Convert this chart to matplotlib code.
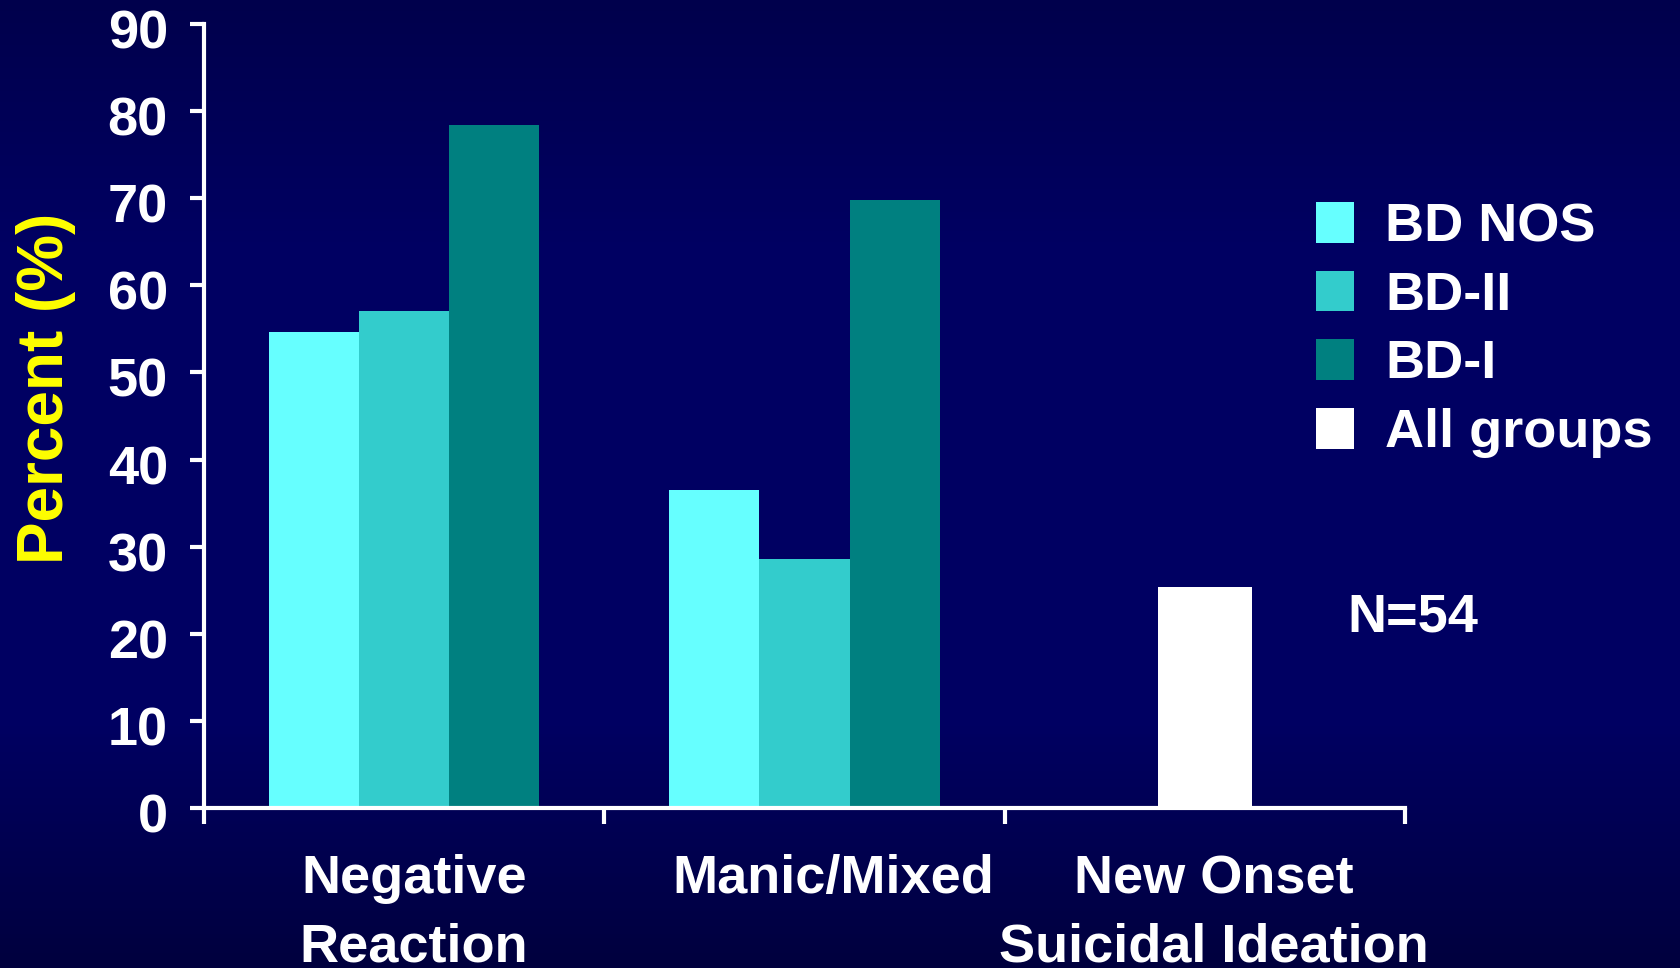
import numpy as np
import matplotlib
matplotlib.use("Agg")
import matplotlib.pyplot as plt
import matplotlib.transforms as mtransforms
from matplotlib.colors import LinearSegmentedColormap
from matplotlib.patches import Patch

plt.rcParams['font.family'] = ['Liberation Sans', 'DejaVu Sans']
plt.rcParams['font.weight'] = 'bold'

# data
categories = ['Negative\nReaction', 'Manic/Mixed', 'New Onset\nSuicidal Ideation']
series_names = ['BD NOS', 'BD-II', 'BD-I', 'All groups']
bd_nos = [54.6, 36.5, np.nan]
bd_ii = [57.0, 28.6, np.nan]
bd_i = [78.4, 69.8, np.nan]
all_groups = [np.nan, np.nan, 25.4]
sample_note = 'N=54'
yticks = [0, 10, 20, 30, 40, 50, 60, 70, 80, 90]

colors = ['#66FFFF', '#33CCCC', '#008080', '#FFFFFF']
label_shift = [0.025, 0.073, 0.022]

fig = plt.figure(figsize=(16.81, 9.68), dpi=100)

# dark navy background, slightly brighter in the middle
bg = fig.add_axes([0, 0, 1, 1], zorder=-10)
bg_cmap = LinearSegmentedColormap.from_list(
    'navy', [(0.0, '#00003E'), (0.25, '#000062'), (0.75, '#000062'), (1.0, '#00004C')])
bg.imshow(np.linspace(0, 1, 256).reshape(-1, 1), aspect='auto', cmap=bg_cmap,
          extent=[0, 1, 0, 1], origin='lower')
bg.axis('off')

ax = fig.add_axes([204 / 1681, 160 / 968, (1405 - 204) / 1681, (808 - 24) / 968])
ax.patch.set_alpha(0)

x = np.arange(len(categories))
w = 0.225
ax.bar(x - w, bd_nos, w, color=colors[0], linewidth=0)
ax.bar(x, bd_ii, w, color=colors[1], linewidth=0)
ax.bar(x + w, bd_i, w, color=colors[2], linewidth=0)
ax.bar(x, all_groups, w * 1.04, color=colors[3], linewidth=0)

ax.set_xlim(-0.5, len(categories) - 0.5)
ax.set_ylim(0, 90)

for side in ['top', 'right']:
    ax.spines[side].set_visible(False)
for side in ['left', 'bottom']:
    ax.spines[side].set_color('white')
    ax.spines[side].set_linewidth(3)

ax.set_yticks(yticks)
ax.set_yticklabels([str(v) for v in yticks])
ax.tick_params(axis='y', colors='white', labelsize=39, width=3, length=10, pad=16)
ax.set_xticks(np.arange(len(categories) + 1) - 0.5)
ax.set_xticklabels([])
ax.tick_params(axis='x', colors='white', width=3, length=11.5)

shift = mtransforms.ScaledTranslation(0, -5 / 100, fig.dpi_scale_trans)
for lbl in ax.get_yticklabels():
    lbl.set_transform(lbl.get_transform() + shift)
    lbl.set_fontweight('bold')

# category names under the axis
xform = mtransforms.blended_transform_factory(ax.transData, fig.transFigure)
for i, name in enumerate(categories):
    ax.text(i + label_shift[i], 1 - 854 / 968, name, transform=xform, ha='center', va='top',
            color='white', fontsize=39, fontweight='bold', linespacing=1.48)

fig.text(46 / 1681, 1 - 388 / 968, 'Percent (%)', rotation=90, ha='center', va='center',
         color='#FFFF00', fontsize=46, fontweight='bold')

ax.text(2.355, 21.9, sample_note, ha='left', va='center', color='white',
        fontsize=39, fontweight='bold', clip_on=False)

handles = [Patch(facecolor=c, edgecolor='none') for c in colors]
leg = fig.legend(handles, series_names, loc='upper left',
                 bbox_to_anchor=(1316 / 1681, 1 - 202 / 968), frameon=False,
                 fontsize=39, handlelength=0.7, handleheight=0.78,
                 handletextpad=0.58, labelspacing=0.34, borderpad=0, borderaxespad=0)
for t in leg.get_texts():
    t.set_color('white')
    t.set_fontweight('bold')

fig.savefig('out.png', dpi=100)
